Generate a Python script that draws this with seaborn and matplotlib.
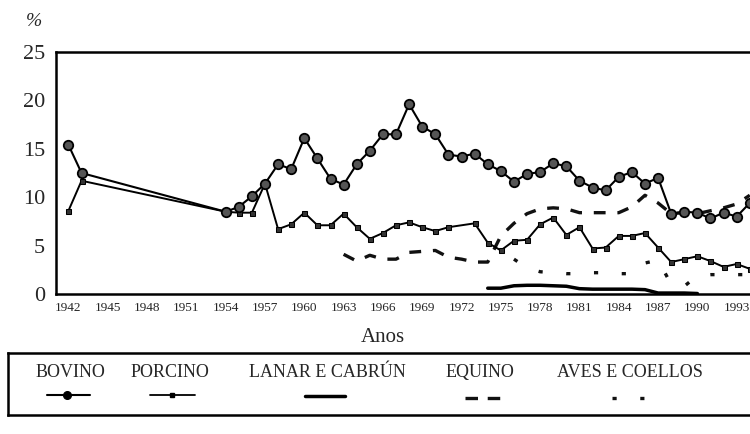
import numpy as np
import pandas as pd
import matplotlib
matplotlib.use("Agg")
import matplotlib.pyplot as plt
from matplotlib.ticker import FixedLocator, MultipleLocator
import seaborn as sns

# data (% by year)
bovino_years = [1942, 1943, 1954, 1955, 1956, 1957, 1958, 1959, 1960, 1961, 1962, 1963,
                1964, 1965, 1966, 1967, 1968, 1969, 1970, 1971, 1972, 1973, 1974, 1975,
                1976, 1977, 1978, 1979, 1980, 1981, 1982, 1983, 1984, 1985, 1986, 1987,
                1988, 1989, 1990, 1991, 1992, 1993, 1994, 1995]
bovino = [15.4, 12.5, 8.5, 9.0, 10.1, 11.4, 13.4, 12.9, 16.1, 14.0, 11.9, 11.3,
          13.4, 14.8, 16.5, 16.5, 19.6, 17.3, 16.5, 14.4, 14.2, 14.5, 13.4, 12.7,
          11.6, 12.4, 12.6, 13.5, 13.2, 11.7, 11.0, 10.7, 12.1, 12.6, 11.4, 12.0,
          8.3, 8.5, 8.4, 7.8, 8.4, 8.0, 9.4, 10.5]

porcino_years = [1942, 1943, 1954, 1955, 1956, 1957, 1958, 1959, 1960, 1961, 1962, 1963,
                 1964, 1965, 1966, 1967, 1968, 1969, 1970, 1971, 1973, 1974, 1975, 1976,
                 1977, 1978, 1979, 1980, 1981, 1982, 1983, 1984, 1985, 1986, 1987, 1988,
                 1989, 1990, 1991, 1992, 1993, 1994]
porcino = [8.6, 11.7, 8.5, 8.4, 8.4, 11.4, 6.7, 7.2, 8.4, 7.1, 7.1, 8.3,
           6.9, 5.7, 6.3, 7.1, 7.4, 6.9, 6.5, 6.9, 7.3, 5.3, 4.5, 5.5,
           5.6, 7.2, 7.9, 6.1, 6.9, 4.7, 4.8, 6.0, 6.0, 6.3, 4.8, 3.3,
           3.6, 3.9, 3.4, 2.8, 3.1, 2.6]

lanar_years = [1974, 1975, 1976, 1977, 1978, 1979, 1980, 1981, 1982, 1983, 1984, 1985,
               1986, 1987, 1988, 1989, 1990]
lanar = [0.6, 0.6, 0.85, 0.9, 0.9, 0.85, 0.8, 0.55, 0.5, 0.5, 0.5, 0.5,
         0.45, 0.1, 0.1, 0.1, 0.05]

equino_years = [1963, 1964, 1965, 1966, 1967, 1968, 1969, 1970, 1971, 1972, 1973, 1974,
                1975, 1976, 1977, 1978, 1979, 1980, 1981, 1982, 1983, 1984, 1985, 1986,
                1987, 1988, 1989, 1990, 1991, 1992, 1993, 1994]
equino = [4.1, 3.4, 4.0, 3.6, 3.6, 4.3, 4.4, 4.5, 3.8, 3.6, 3.3, 3.3,
          6.0, 7.3, 8.3, 8.8, 8.9, 8.8, 8.4, 8.4, 8.4, 8.4, 9.0, 10.2,
          9.4, 8.3, 8.4, 8.3, 8.6, 8.9, 9.3, 10.2]

aves_years = [1976, 1977, 1978, 1979, 1980, 1981, 1982, 1983, 1984, 1985, 1986, 1987,
              1988, 1989, 1990, 1991, 1992, 1993, 1994]
aves = [3.6, 2.7, 2.3, 2.2, 2.1, 2.1, 2.2, 2.2, 2.1, 2.1, 3.2, 3.5,
        1.0, 0.8, 1.9, 2.0, 2.0, 2.0, 2.0]

year_ticks = [1942, 1945, 1948, 1951, 1954, 1957, 1960, 1963, 1966, 1969, 1972,
              1975, 1978, 1981, 1984, 1987, 1990, 1993, 1996]
pct_ticks = [0, 5, 10, 15, 20, 25]

legend_labels = ["BOVINO", "PORCINO", "LANAR E CABRÚN", "EQUINO", "AVES E COELLOS"]

sns.set_style("white")
plt.rcParams['font.family'] = ['Liberation Serif', 'DejaVu Serif']
plt.rcParams['lines.scale_dashes'] = False

fig = plt.figure(figsize=(7.5, 4.34), dpi=100)
# axes runs past the right edge, like the cropped scan
ax = fig.add_axes([56/750, 140/434, 720/750, 242/434])

sns.lineplot(x=bovino_years, y=bovino, ax=ax, color='black', lw=1.5, marker='o',
             markersize=6.8, markerfacecolor='#555555', markeredgecolor='black',
             markeredgewidth=1.3, zorder=5)
sns.lineplot(x=porcino_years, y=porcino, ax=ax, color='black', lw=1.4, marker='s',
             markersize=3.6, markerfacecolor='#333333', markeredgecolor='black', zorder=4)
sns.lineplot(x=lanar_years, y=lanar, ax=ax, color='black', lw=2.5, zorder=3)
sns.lineplot(x=equino_years, y=equino, ax=ax, color='#111111', lw=2.4,
             linestyle=(0, (8.5, 8.5)), zorder=3)
sns.lineplot(x=aves_years, y=aves, ax=ax, color='#111111', lw=2.4,
             linestyle=(0, (3, 17)), zorder=3)

ax.set_xlim(1941.05, 1996.0)
ax.set_ylim(0, 25)
ax.xaxis.set_major_locator(FixedLocator(year_ticks))
ax.xaxis.set_minor_locator(MultipleLocator(1))
ax.yaxis.set_major_locator(FixedLocator(pct_ticks))
ax.yaxis.set_minor_locator(MultipleLocator(2.5))
ax.tick_params(axis='x', which='major', direction='in', length=6, width=1.3,
               labelsize=9.5, pad=6, top=False)
ax.tick_params(axis='x', which='minor', direction='in', length=3, width=1.2, top=False)
ax.tick_params(axis='y', which='major', direction='in', length=5, width=1.3,
               labelsize=16, pad=8, right=False)
ax.tick_params(axis='y', which='minor', direction='in', length=5, width=1.3, right=False)
for s in ax.spines.values():
    s.set_linewidth(1.8)
    s.set_color('black')
ax.set_xlabel("")
ax.set_ylabel("")

fig.text(34/750, 1 - 22/434, "%", fontsize=14, style='italic', ha='center', va='center')
fig.text(383/750, 1 - 338/434, "Anos", fontsize=15, ha='center', va='center')

# legend box, labels above the line samples
leg = fig.add_axes([8/750, 19/434, 760/750, 62/434])
leg.set_xlim(8, 768)
leg.set_ylim(0, 1)
leg.set_xticks([])
leg.set_yticks([])
for s in leg.spines.values():
    s.set_linewidth(1.8)
    s.set_color('black')

label_x = [70, 170, 327, 480, 630]
for lx, lab in zip(label_x, legend_labels):
    leg.text(lx, 0.68, lab, fontsize=13, ha='center', va='center')

leg.plot([47, 90], [0.33, 0.33], color='black', lw=1.5)
leg.plot([67], [0.33], marker='o', color='black', markersize=5.5)
leg.plot([150, 195], [0.33, 0.33], color='black', lw=1.3)
leg.plot([172], [0.33], marker='s', color='black', markersize=3.5)
leg.plot([305, 345], [0.3, 0.3], color='black', lw=2.5)
leg.plot([465, 500], [0.28, 0.28], color='#111111', lw=2.4, linestyle=(0, (9, 7)))
leg.plot([612, 646], [0.28, 0.28], color='#111111', lw=2.4, linestyle=(0, (3, 17)))

fig.savefig("out.png", dpi=100, facecolor='white')
